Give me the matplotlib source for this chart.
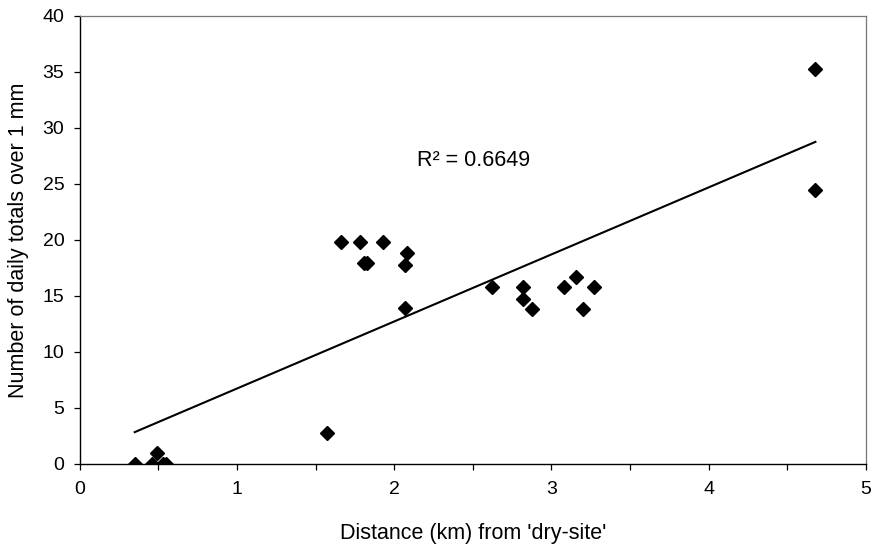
import numpy as np
import matplotlib

matplotlib.use("Agg")
import matplotlib.pyplot as plt  # noqa: E402

# distance from the dry site (km) and count of daily totals over 1 mm
distance_km = [0.35, 0.46, 0.49, 0.53, 0.55, 1.57,
               1.66, 1.78, 1.93, 1.81, 1.83, 2.08, 2.07, 2.07,
               2.62, 2.82, 2.82, 2.88, 3.08, 3.16, 3.27, 3.20,
               4.68, 4.68]
daily_totals = [0.0, 0.0, 1.0, 0.0, 0.0, 2.8,
                19.8, 19.8, 19.8, 17.9, 17.9, 18.8, 17.8, 13.9,
                15.8, 15.8, 14.7, 13.8, 15.8, 16.7, 15.8, 13.8,
                35.3, 24.5]
r2_label = "R\u00b2 = 0.6649"

plt.rcParams["font.family"] = ["Liberation Sans", "DejaVu Sans"]

fig = plt.figure(figsize=(8.72, 5.51), dpi=100)
ax = fig.add_axes([0.0914, 0.158, 0.9014, 0.813])

x = np.array(distance_km)
y = np.array(daily_totals)
ax.plot(x, y, linestyle="none", marker="D", markersize=7,
        color="black", zorder=3)

# linear trendline over the range of the data
slope, intercept = np.polyfit(x, y, 1)
xs = np.array([x.min(), x.max()])
ax.plot(xs, slope * xs + intercept, color="black", linewidth=1.5, zorder=2)
ax.text(2.144, 27.1, r2_label, ha="left", va="center", fontsize=15.5)

ax.set_xlim(0, 5)
ax.set_ylim(0, 40)
ticks = np.arange(0, 5.01, 0.5)
ax.set_xticks(ticks)
ax.set_xticklabels([str(int(t)) if t == int(t) else "" for t in ticks])
ax.set_yticks(range(0, 41, 5))
ax.tick_params(axis="both", direction="out", length=4, width=0.9,
               labelsize=14, color="black")
ax.tick_params(axis="x", pad=8)
ax.tick_params(axis="y", pad=7)

ax.set_xlabel("Distance (km) from 'dry-site'", fontsize=15.5, labelpad=18)
ax.set_ylabel("Number of daily totals over 1 mm", fontsize=15.5, labelpad=10)

for side in ("left", "bottom"):
    ax.spines[side].set_color("black")
    ax.spines[side].set_linewidth(1.0)
for side in ("top", "right"):
    ax.spines[side].set_color("#777777")
    ax.spines[side].set_linewidth(0.9)
    ax.spines[side].set_linestyle((0, (1, 1)))

fig.savefig("out.png", dpi=100)
